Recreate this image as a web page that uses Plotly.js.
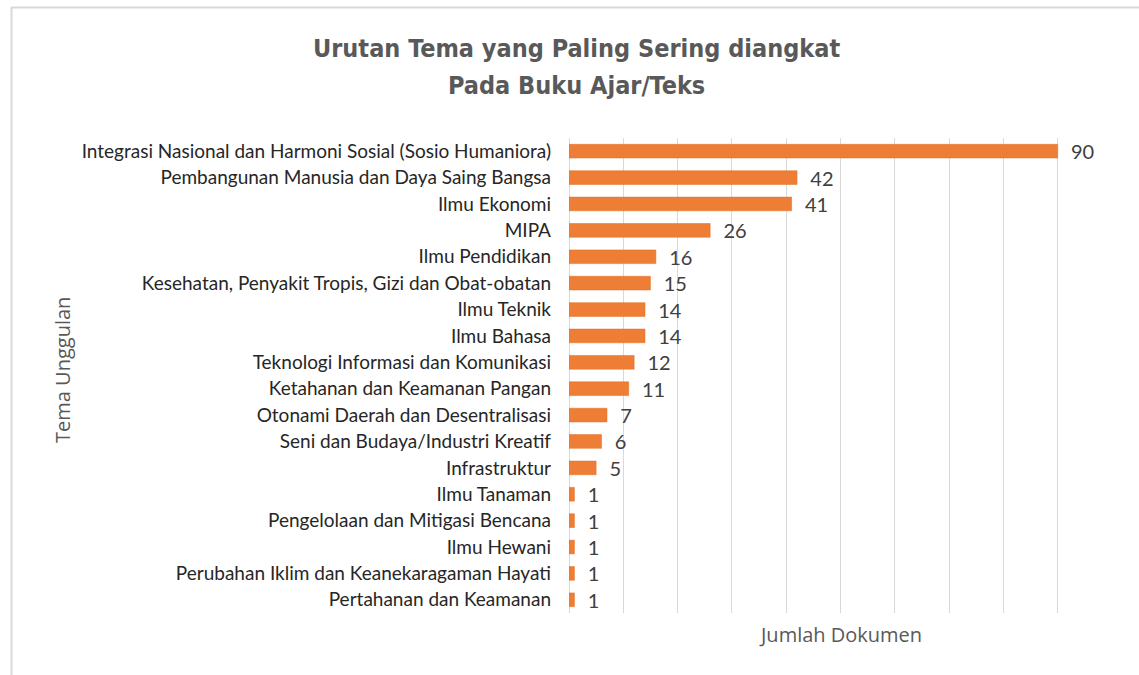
<!DOCTYPE html>
<html>
<head>
<meta charset="utf-8">
<script src="https://cdn.plot.ly/plotly-3.0.1.min.js"></script>
<style>html,body{margin:0;padding:0;background:#fff;}#chart{width:1139px;height:675px;}</style>
</head>
<body>
<div id="chart"></div>
<script>
const categories = [
  "Integrasi Nasional dan Harmoni Sosial (Sosio Humaniora)",
  "Pembangunan Manusia dan Daya Saing Bangsa",
  "Ilmu Ekonomi",
  "MIPA",
  "Ilmu Pendidikan",
  "Kesehatan, Penyakit Tropis, Gizi dan Obat-obatan",
  "Ilmu Teknik",
  "Ilmu Bahasa",
  "Teknologi Informasi dan Komunikasi",
  "Ketahanan dan Keamanan Pangan",
  "Otonami Daerah dan Desentralisasi",
  "Seni dan Budaya/Industri Kreatif",
  "Infrastruktur",
  "Ilmu Tanaman",
  "Pengelolaan dan Mitigasi Bencana",
  "Ilmu Hewani",
  "Perubahan Iklim dan Keanekaragaman Hayati",
  "Pertahanan dan Keamanan"
];
const values = [90, 42, 41, 26, 16, 15, 14, 14, 12, 11, 7, 6, 5, 1, 1, 1, 1, 1];
const titleLines = ["Urutan Tema yang Paling Sering diangkat", "Pada Buku Ajar/Teks"];
const xTitle = "Jumlah Dokumen";
const yTitle = "Tema Unggulan";

const labelFont = "Lato, 'Open Sans', sans-serif";
const axisTitleFont = "'Open Sans', Lato, sans-serif";
const titleFont = "'DejaVu Sans Condensed', 'Liberation Sans Narrow', sans-serif";

const trace = {
  type: "bar",
  orientation: "h",
  x: values,
  y: categories,
  width: 0.52,
  marker: {color: "#EE7E35", line: {color: "#E06E22", width: 0.5}},
  texttemplate: "\u00a0\u00a0%{x}",
  textposition: "outside",
  constraintext: "none",
  cliponaxis: false,
  textfont: {family: labelFont, size: 20, color: "#404040"},
  hoverinfo: "skip"
};

const L = 569, R = 1112, T = 138, B = 613;
const W = R - L, H = B - T;
const px = x => (x - L) / W;
const py = y => (B - y) / H;

const titleStyle = {family: titleFont, size: 25, color: "#595959", weight: "bold"};

const layout = {
  width: 1139,
  height: 675,
  paper_bgcolor: "#ffffff",
  plot_bgcolor: "#ffffff",
  margin: {l: L, r: 1139 - R, t: T, b: 675 - B, pad: 0},
  showlegend: false,
  xaxis: {
    range: [0, 100],
    dtick: 10,
    showgrid: true,
    gridcolor: "#D9D9D9",
    gridwidth: 1,
    zeroline: true,
    zerolinecolor: "#D9D9D9",
    zerolinewidth: 1,
    showticklabels: false,
    ticks: "",
    showline: false,
    fixedrange: true
  },
  yaxis: {
    autorange: "reversed",
    type: "category",
    showgrid: false,
    zeroline: false,
    showline: false,
    ticks: "",
    ticklabelstandoff: 17,
    tickfont: {family: labelFont, size: 19, color: "#262626"},
    fixedrange: true
  },
  annotations: [
    {text: titleLines[0], xref: "paper", yref: "paper", x: px(576), y: py(48), xanchor: "center", yanchor: "middle",
     showarrow: false, font: titleStyle},
    {text: titleLines[1], xref: "paper", yref: "paper", x: px(576), y: py(85), xanchor: "center", yanchor: "middle",
     showarrow: false, font: titleStyle},
    {text: xTitle, xref: "paper", yref: "paper", x: px(840), y: py(634), xanchor: "center", yanchor: "middle",
     showarrow: false, font: {family: axisTitleFont, size: 20, color: "#595959"}},
    {text: yTitle, xref: "paper", yref: "paper", x: px(62), y: py(370), xanchor: "center", yanchor: "middle",
     textangle: -90, showarrow: false, font: {family: axisTitleFont, size: 20, color: "#595959"}}
  ],
  shapes: [
    {type: "line", xref: "paper", yref: "paper", x0: px(11), x1: px(1139), y0: py(7.5), y1: py(7.5),
     line: {color: "#D9D9D9", width: 2}},
    {type: "line", xref: "paper", yref: "paper", x0: px(11.5), x1: px(11.5), y0: py(7), y1: py(675),
     line: {color: "#D9D9D9", width: 2}}
  ]
};

Plotly.newPlot("chart", [trace], layout, {staticPlot: true, displayModeBar: false});
</script>
</body>
</html>
